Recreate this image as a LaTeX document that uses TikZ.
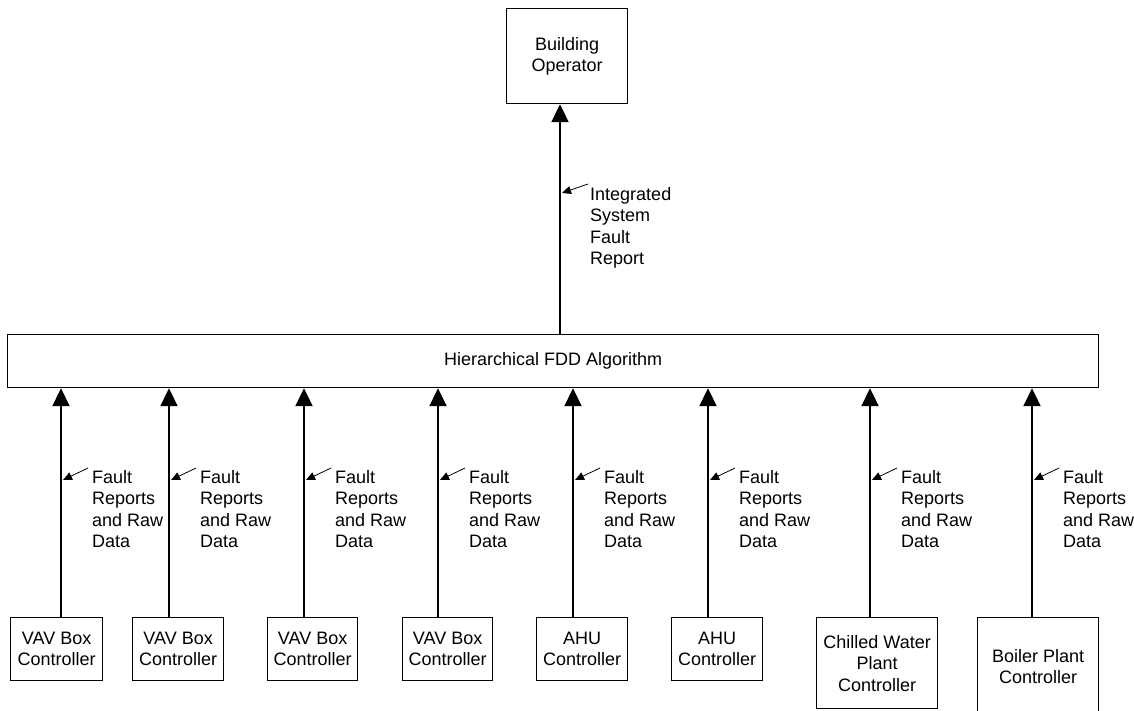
\documentclass[tikz,border=0pt]{standalone}
\usepackage{fontspec}
\setmainfont{Liberation Sans}
\usetikzlibrary{arrows.meta}
\begin{document}
\begin{tikzpicture}[x=1pt,y=-1pt,
  txt/.style={font=\fontsize{18}{21.5}\selectfont},
  box/.style={txt,draw,line width=1.2pt,inner sep=0pt,align=center,anchor=north west},
  flow/.style={line width=2pt,-{Triangle[length=18pt,width=17pt]}},
  lbl/.style={txt,align=left,anchor=north west,inner sep=0pt},
  pointer/.style={line width=0.8pt,-{Triangle[length=9pt,width=8pt]}}]
\useasboundingbox (0,0) rectangle (1134,711);

% boxes
\node[box,minimum width=121pt,minimum height=95pt] (bo) at (506,8) {Building\\Operator};
\node[box,minimum width=1091pt,minimum height=53pt] (fdd) at (7,334) {Hierarchical FDD Algorithm};
\node[box,minimum width=92pt,minimum height=63pt] (c1) at (10,617) {VAV Box\\Controller};
\node[box,minimum width=91pt,minimum height=63pt] (c2) at (132,617) {VAV Box\\Controller};
\node[box,minimum width=90pt,minimum height=63pt] (c3) at (267,617) {VAV Box\\Controller};
\node[box,minimum width=90pt,minimum height=63pt] (c4) at (402,617) {VAV Box\\Controller};
\node[box,minimum width=91pt,minimum height=63pt] (c5) at (536,617) {AHU\\Controller};
\node[box,minimum width=91pt,minimum height=63pt] (c6) at (671,617) {AHU\\Controller};
\node[box,minimum width=121pt,minimum height=91pt] (c7) at (816,617) {Chilled Water\\Plant\\Controller};
\node[box,minimum width=121pt,minimum height=98pt] (c8) at (977,617) {Boiler Plant\\Controller};

% top connector
\coordinate (l0) at (560,0);
\draw[flow] (fdd.north -| l0) -- (bo.south -| l0);
\coordinate (p0) at (588,184);
\coordinate (q0) at (562,193);
\draw[pointer] (p0) -- (q0);
\node[lbl] (t0) at (590,187) {Integrated\\System\\Fault\\Report};

% bottom connectors
\foreach \i/\x in {1/61,2/169,3/304,4/438,5/573,6/708,7/870,8/1032}{
  \coordinate (l\i) at (\x,0);
  \draw[flow] (c\i.north -| l\i) -- (fdd.south -| l\i);
  \coordinate (p\i) at (\x+27,468);
  \coordinate (q\i) at (\x+2,480);
  \draw[pointer] (p\i) -- (q\i);
  \node[lbl] (t\i) at (\x+31,470) {Fault\\Reports\\and Raw\\Data};
}
\end{tikzpicture}
\end{document}
